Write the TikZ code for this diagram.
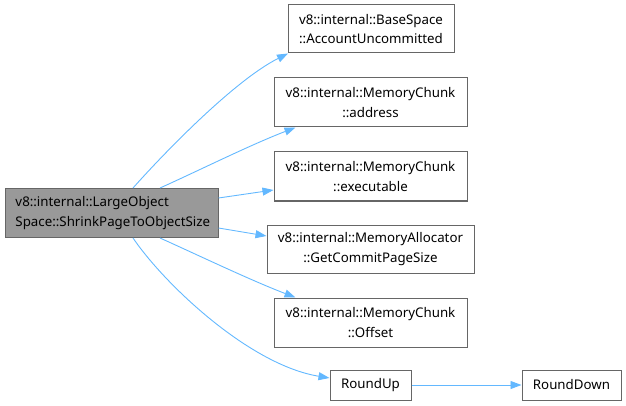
\documentclass[tikz,border=0pt]{standalone}
\usepackage{fontspec}
\setmainfont{Noto Sans}
\usetikzlibrary{arrows.meta}
\definecolor{edgeblue}{HTML}{63B8FF}
\definecolor{boxgray}{HTML}{999999}
\definecolor{bordergray}{HTML}{666666}
\begin{document}
\begin{tikzpicture}[x=1pt,y=-1pt,
  box/.style={draw=bordergray,line width=1pt,rectangle,inner sep=0pt,align=center,
    font=\fontsize{13.3}{19.5}\selectfont,text=black},
  edge/.style={draw=edgeblue,line width=0.9pt,-{Triangle[length=11pt,width=8pt]}}]
\useasboundingbox (0,0) rectangle (626,406);
\node[box,fill=boxgray,minimum width=213pt,minimum height=49pt,text width=192pt,align=left] (L) at (111.5,213) {v8::internal::LargeObject\\Space::ShrinkPageToObjectSize};
\node[box,minimum width=166pt,minimum height=48pt] (A) at (371,29) {v8::internal::BaseSpace\\::AccountUncommitted};
\node[box,minimum width=193pt,minimum height=49pt] (B) at (370.5,102.5) {v8::internal::MemoryChunk\\::address};
\node[box,minimum width=193pt,minimum height=49pt] (C) at (370.5,176.5) {v8::internal::MemoryChunk\\::executable};
\node[box,minimum width=207pt,minimum height=48pt] (D) at (370.5,249) {v8::internal::MemoryAllocator\\::GetCommitPageSize};
\node[box,minimum width=193pt,minimum height=49pt] (E) at (370.5,322.5) {v8::internal::MemoryChunk\\::Offset};
\node[box,minimum width=81pt,minimum height=30pt] (F) at (370.5,385) {RoundUp};
\node[box,minimum width=99pt,minimum height=30pt] (G) at (571.5,385) {RoundDown};
\draw[edge] ([xshift=21.5pt]L.north) .. controls (165,152) and (235,80) .. ([xshift=-83pt]A.south);
\draw[edge] ([xshift=48.5pt]L.north) .. controls (200,170) and (250,145) .. ([xshift=-75pt]B.south);
\draw[edge] ([yshift=15pt]L.east) -- ([yshift=-13.5pt]C.west);
\draw[edge] ([yshift=-15pt]L.east) -- ([yshift=13pt]D.west);
\draw[edge] ([xshift=48.5pt]L.south) .. controls (200,256) and (250,280) .. ([xshift=-75pt]E.north);
\draw[edge] ([xshift=21.5pt]L.south) .. controls (165,285) and (250,365) .. ([yshift=7pt]F.west);
\draw[edge] (F.east) -- (G.west);
\end{tikzpicture}
\end{document}
